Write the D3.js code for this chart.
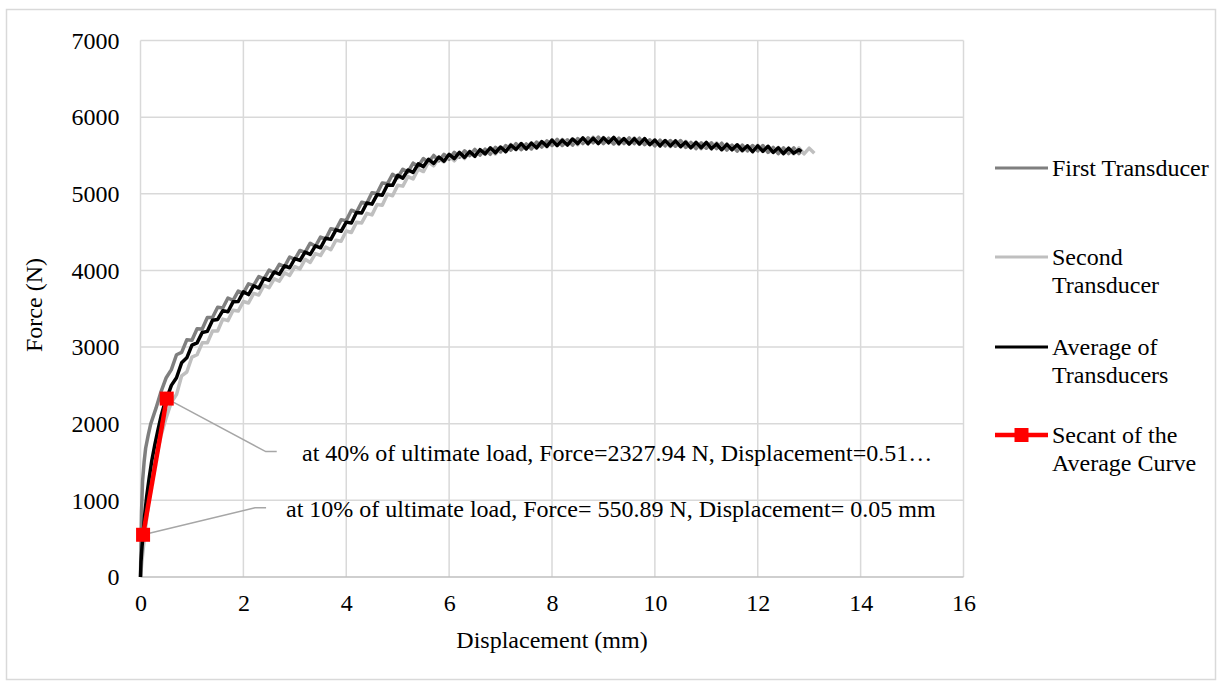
<!DOCTYPE html>
<html><head><meta charset="utf-8">
<script src="https://cdn.jsdelivr.net/npm/d3@7"></script>
<style>
html,body{margin:0;padding:0;background:#fff;}
svg text{font-family:"Liberation Serif","Times New Roman",serif !important;fill:#000;}
</style></head>
<body><svg id="c" width="1222" height="684"></svg>
<script>
// ---- data ----
const xTicks = [0,2,4,6,8,10,12,14,16];
const yTicks = [0,1000,2000,3000,4000,5000,6000,7000];

// shared displacement grid 0.6 .. 12.8 mm
const dispGrid = [0.6,0.7,0.8,0.9,1.0,1.1,1.2,1.3,1.4,1.5,1.6,1.7,1.8,1.9,2.0,2.1,2.2,2.3,2.4,2.5,2.6,2.7,2.8,2.9,3.0,
3.1,3.2,3.3,3.4,3.5,3.6,3.7,3.8,3.9,4.0,4.1,4.2,4.3,4.4,4.5,4.6,4.7,4.8,4.9,5.0,5.1,5.2,5.3,5.4,5.5,5.6,5.7,5.8,5.9,6.0,
6.1,6.2,6.3,6.4,6.5,6.6,6.7,6.8,6.9,7.0,7.1,7.2,7.3,7.4,7.5,7.6,7.7,7.8,7.9,8.0,8.1,8.2,8.3,8.4,8.5,8.6,8.7,8.8,8.9,9.0,
9.1,9.2,9.3,9.4,9.5,9.6,9.7,9.8,9.9,10.0,10.1,10.2,10.3,10.4,10.5,10.6,10.7,10.8,10.9,11.0,11.1,11.2,11.3,11.4,11.5,
11.6,11.7,11.8,11.9,12.0,12.1,12.2,12.3,12.4,12.5,12.6,12.7,12.8];

// First Transducer
const firstEarlyDisp  = [0,0.01,0.02,0.04,0.07,0.1,0.15,0.2,0.3,0.4,0.5];
const firstEarlyForce = [0,450,850,1250,1500,1680,1850,2000,2200,2420,2600];
const firstForce = [2705,2900,2930,3095,3090,3240,3235,3385,3385,3520,3510,3640,3610,3730,3705,3825,3805,3920,3890,4005,
3965,4080,4050,4175,4145,4260,4235,4355,4315,4435,4410,4545,4530,4660,4650,4785,4760,4890,4875,5015,5005,5140,5130,5255,
5210,5320,5285,5400,5360,5460,5410,5500,5430,5515,5450,5540,5477,5560,5498,5580,5505,5582,5515,5605,5545,5630,5570,5655,
5575,5650,5585,5675,5610,5690,5630,5710,5630,5705,5635,5720,5655,5730,5665,5740,5655,5725,5650,5725,5655,5730,5655,5725,
5640,5705,5625,5700,5625,5695,5620,5695,5605,5670,5590,5665,5595,5665,5590,5660,5570,5635,5555,5635,5560,5630,5560,5630,
5540,5605,5525,5600,5525,5600,5525];
const firstTailDisp  = [12.85];
const firstTailForce = [5555];

// Second Transducer
const secondEarlyDisp  = [0,0.02,0.05,0.1,0.15,0.2,0.3,0.4,0.5];
const secondEarlyForce = [0,150,350,650,950,1200,1550,1850,2080];
const secondForce = [2280,2380,2625,2675,2870,2900,3055,3055,3210,3210,3365,3345,3480,3470,3595,3575,3700,3680,3805,3775,
3890,3860,3970,3935,4050,4020,4145,4105,4220,4195,4305,4270,4395,4380,4515,4495,4630,4620,4745,4725,4860,4850,4995,4975,
5110,5100,5225,5195,5320,5290,5415,5365,5465,5415,5495,5430,5518,5460,5555,5485,5570,5515,5590,5520,5605,5550,5645,5575,
5655,5590,5665,5595,5675,5610,5705,5630,5710,5645,5715,5640,5720,5650,5740,5660,5735,5665,5730,5645,5720,5650,5730,5645,
5720,5645,5705,5620,5690,5615,5695,5615,5685,5610,5670,5585,5660,5585,5665,5580,5650,5575,5635,5555,5625,5550,5635,5550,
5620,5545,5605,5520,5590,5520,5600];
const secondTailDisp  = [12.9,13.0,13.1];
const secondTailForce = [5520,5595,5530];

// Average of Transducers
const avgEarlyDisp  = [0,0.01,0.03,0.05,0.08,0.12,0.17,0.22,0.28,0.34,0.4,0.46,0.51];
const avgEarlyForce = [0,200,400,551,800,1050,1300,1520,1730,1920,2100,2240,2330];
const avgForce = [2500,2600,2795,2860,3025,3055,3190,3205,3350,3360,3475,3460,3590,3595,3720,3685,3800,3770,3895,3870,
3980,3950,4060,4035,4155,4130,4240,4210,4320,4295,4420,4405,4530,4510,4630,4620,4755,4750,4880,4865,4990,4980,5115,5110,
5240,5205,5310,5280,5390,5355,5450,5395,5480,5425,5515,5460,5540,5475,5550,5490,5575,5520,5600,5535,5610,5550,5635,5580,
5655,5585,5660,5600,5680,5620,5700,5630,5700,5635,5715,5655,5730,5655,5725,5655,5730,5665,5735,5655,5720,5650,5720,5650,
5720,5640,5700,5625,5695,5625,5690,5615,5675,5600,5670,5600,5670,5590,5650,5575,5645,5575,5640,5565,5625,5550,5625,5555,
5620,5540,5600,5525,5595,5530,5575];
const avgTailDisp  = [12.85];
const avgTailForce = [5550];

// Secant of the Average Curve
const secantDisp  = [0.05, 0.51];
const secantForce = [550.89, 2327.94];

const legendLabels = [["First Transducer"],["Second","Transducer"],["Average of","Transducers"],["Secant of the","Average Curve"]];
const annotations = [
  {d:0.51, f:2327.94, text:"at 40% of ultimate load, Force=2327.94 N, Displacement=0.51…"},
  {d:0.05, f:550.89,  text:"at 10% of ultimate load, Force= 550.89 N, Displacement= 0.05 mm"}
];

// ---- build ----
function series(ed, ef, gf, td, tf){
  const pts = ed.map((d,i)=>[d, ef[i]]);
  gf.forEach((f,i)=>pts.push([dispGrid[i], f]));
  td.forEach((d,i)=>pts.push([d, tf[i]]));
  return pts;
}
const firstPts  = series(firstEarlyDisp, firstEarlyForce, firstForce, firstTailDisp, firstTailForce);
const secondPts = series(secondEarlyDisp, secondEarlyForce, secondForce, secondTailDisp, secondTailForce);
const avgPts    = series(avgEarlyDisp, avgEarlyForce, avgForce, avgTailDisp, avgTailForce);
const secantPts = secantDisp.map((d,i)=>[d, secantForce[i]]);

const FONT = "'Liberation Serif','Times New Roman',serif";
const FS = 24;
const svg = d3.select("#c");
const L=140.5, R=963.5, T=40.5, B=577;
const x = d3.scaleLinear().domain([0,16]).range([L,R]);
const y = d3.scaleLinear().domain([0,7000]).range([B,T]);

// outer border
svg.append("rect").attr("x",6.5).attr("y",9.5).attr("width",1209).attr("height",670)
  .attr("fill","none").attr("stroke","#d9d9d9").attr("stroke-width",1.5);

// grid
const g = svg.append("g");
g.selectAll(".vg").data(xTicks).join("line")
  .attr("x1",d=>x(d)).attr("x2",d=>x(d)).attr("y1",T).attr("y2",B)
  .attr("stroke","#d9d9d9").attr("stroke-width",1.5);
g.selectAll(".hg").data(yTicks).join("line")
  .attr("x1",L).attr("x2",R).attr("y1",d=>y(d)).attr("y2",d=>y(d))
  .attr("stroke",d=>d===0?"#bfbfbf":"#d9d9d9").attr("stroke-width",1.5);

// axes labels
const yAxis = d3.axisLeft(y).tickValues(yTicks).tickFormat(d3.format("d")).tickSize(0).tickPadding(21);
const ya = svg.append("g").attr("transform",`translate(${L},0)`).call(yAxis)
  .attr("font-family",FONT).attr("font-size",FS);
ya.select(".domain").remove();
ya.selectAll("text").style("font-family",FONT).style("font-size",FS+"px").attr("fill","#000");

const xAxis = d3.axisBottom(x).tickValues(xTicks).tickFormat(d3.format("d")).tickSize(0).tickPadding(17);
const xa = svg.append("g").attr("transform",`translate(0,${B})`).call(xAxis)
  .attr("font-family",FONT).attr("font-size",FS);
xa.select(".domain").remove();
xa.selectAll("text").style("font-family",FONT).style("font-size",FS+"px").attr("fill","#000");

svg.append("text").attr("x",552).attr("y",648).attr("text-anchor","middle")
  .style("font-size",FS+"px").text("Displacement (mm)");
svg.append("text").attr("transform","translate(42,305) rotate(-90)").attr("text-anchor","middle")
  .style("font-size",FS+"px").text("Force (N)");

// lines
const line = d3.line().x(d=>x(d[0])).y(d=>y(d[1]));
svg.append("path").datum(firstPts).attr("d",line).attr("fill","none")
  .attr("stroke","#7f7f7f").attr("stroke-width",3.5).attr("stroke-linejoin","round");
svg.append("path").datum(secondPts).attr("d",line).attr("fill","none")
  .attr("stroke","#bfbfbf").attr("stroke-width",3.5).attr("stroke-linejoin","round");
svg.append("path").datum(avgPts).attr("d",line).attr("fill","none")
  .attr("stroke","#000").attr("stroke-width",3.5).attr("stroke-linejoin","round");

// annotations leader lines
const ann = [
  {pts:[[0,0],[99,53],[110,53]], tx:302, ty:461},
  {pts:[[0,0],[112,-27],[123,-27]], tx:286, ty:517}
];
annotations.forEach((a,i)=>{
  const px=x(a.d), py=y(a.f);
  const o = ann[i];
  svg.append("path").attr("d", d3.line()(o.pts.map(p=>[px+p[0], py+p[1]])))
    .attr("fill","none").attr("stroke","#a6a6a6").attr("stroke-width",1.5);
  svg.append("text").attr("x",o.tx).attr("y",o.ty).style("font-size",FS+"px").text(a.text);
});

// secant
svg.append("path").datum(secantPts).attr("d",line).attr("fill","none")
  .attr("stroke","#ff0000").attr("stroke-width",4.5);
svg.selectAll(".mk").data(secantPts).join("rect")
  .attr("x",d=>x(d[0])-7).attr("y",d=>y(d[1])-7).attr("width",14).attr("height",14).attr("fill","#ff0000");

// legend
const legY = [168, 257, 347, 435];
const legCol = ["#7f7f7f","#bfbfbf","#000000","#ff0000"];
legendLabels.forEach((lab,i)=>{
  const ly = legY[i];
  svg.append("line").attr("x1",995).attr("x2",1048).attr("y1",ly).attr("y2",ly)
    .attr("stroke",legCol[i]).attr("stroke-width",i===3?4.5:3);
  if(i===3) svg.append("rect").attr("x",1014.5).attr("y",ly-7).attr("width",14).attr("height",14).attr("fill","#ff0000");
  lab.forEach((t,j)=>{
    svg.append("text").attr("x",1052).attr("y",ly+8+j*27.5).style("font-size",FS+"px").text(t);
  });
});
</script></body></html>
